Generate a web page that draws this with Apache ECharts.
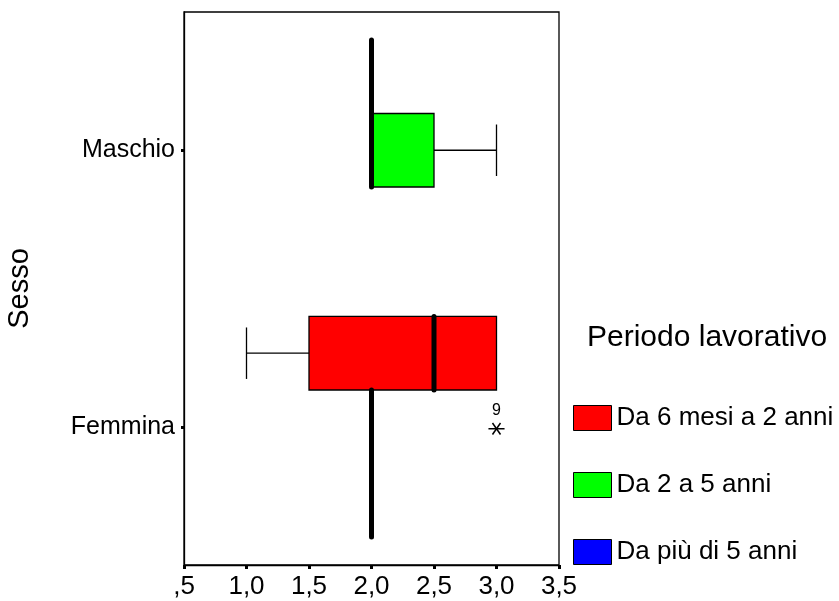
<!DOCTYPE html>
<html>
<head>
<meta charset="utf-8">
<script src="https://cdn.jsdelivr.net/npm/echarts@6/dist/echarts.min.js"></script>
<style>html,body{margin:0;padding:0;background:#fff}#c{width:839px;height:601px}</style>
</head>
<body>
<div id="c"></div>
<script>
// ---- data ----
const categories = ['Maschio', 'Femmina'];
const seriesNames = ['Da 6 mesi a 2 anni', 'Da 2 a 5 anni', 'Da più di 5 anni'];
const seriesColors = ['#ff0000', '#00ff00', '#0000ff'];
// [categoryIndex, min, Q1, median, Q3, max]
const boxRed   = [[0, 2.0, 2.0, 2.0, 2.0, 2.0], [1, 1.0, 1.5, 2.5, 3.0, 3.0]];
const boxGreen = [[0, 2.0, 2.0, 2.0, 2.5, 3.0], [1, 2.0, 2.0, 2.0, 2.0, 2.0]];
const boxBlue  = [[1, 2.0, 2.0, 2.0, 2.0, 2.0]];
// outliers: [categoryIndex, seriesIndex, value, case label]
const outliers = [[1, 1, 3.0, '9']];
const xTickValues = [0.5, 1.0, 1.5, 2.0, 2.5, 3.0, 3.5];
const xTickLabels = [',5', '1,0', '1,5', '2,0', '2,5', '3,0', '3,5'];

const FONT = '"Liberation Sans", Arial, sans-serif';
const BOX_FRAC = 0.266;

function makeBoxRender(sIdx) {
  return function (params, api) {
    const cat = api.value(0);
    const mn = api.value(1), q1 = api.value(2), md = api.value(3), q3 = api.value(4), mx = api.value(5);
    const band = api.size([0, 1])[1];
    const w = band * BOX_FRAC;
    const yc = api.coord([mn, cat])[1] + (sIdx - 1) * w;
    const X = v => api.coord([v, cat])[0];
    const cap = w * 0.7;
    const children = [];
    const line = (x1, y1, x2, y2, lw) => ({
      type: 'line', shape: { x1, y1, x2, y2 },
      style: { stroke: '#000', lineWidth: lw || 1.3 }
    });
    if (mn < q1) {
      children.push(line(X(mn), yc, X(q1), yc));
      children.push(line(X(mn), yc - cap / 2, X(mn), yc + cap / 2));
    }
    if (mx > q3) {
      children.push(line(X(q3), yc, X(mx), yc));
      children.push(line(X(mx), yc - cap / 2, X(mx), yc + cap / 2));
    }
    if (q3 > q1) {
      children.push({
        type: 'rect',
        shape: { x: X(q1), y: yc - w / 2, width: X(q3) - X(q1), height: w },
        style: { fill: seriesColors[sIdx], stroke: '#000', lineWidth: 1.3 }
      });
    }
    children.push({
      type: 'line', shape: { x1: X(md), y1: yc - w / 2, x2: X(md), y2: yc + w / 2 },
      style: { stroke: '#000', lineWidth: 5, lineCap: 'round' }
    });
    return { type: 'group', children };
  };
}

function renderOutlier(params, api) {
  const cat = api.value(0), sIdx = api.value(1), v = api.value(2);
  const band = api.size([0, 1])[1];
  const w = band * BOX_FRAC;
  const p = api.coord([v, cat]);
  const x = p[0], y = p[1] + (sIdx - 1) * w + 2;
  const r = 7;
  const children = [];
  [0, 55, -55].forEach(a => {
    const rad = a * Math.PI / 180;
    const dx = Math.cos(rad) * r * (a === 0 ? 1.15 : 1), dy = Math.sin(rad) * r;
    children.push({ type: 'line', shape: { x1: x - dx, y1: y - dy, x2: x + dx, y2: y + dy },
      style: { stroke: '#000', lineWidth: 1.5 } });
  });
  children.push({ type: 'text', x: x, y: y - 10,
    style: { text: outliers[params.dataIndex][3], fill: '#000', font: '16px ' + FONT,
      align: 'center', verticalAlign: 'bottom' } });
  return { type: 'group', children };
}

const boxData = [boxRed, boxGreen, boxBlue];
const series = boxData.map((d, i) => ({
  name: seriesNames[i],
  type: 'custom',
  renderItem: makeBoxRender(i),
  itemStyle: { color: seriesColors[i], borderColor: '#000', borderWidth: 1 },
  encode: { x: [1, 2, 3, 4, 5], y: 0 },
  data: d,
  silent: true
}));
series.push({
  name: 'outliers',
  type: 'custom',
  renderItem: renderOutlier,
  encode: { x: 2, y: 0 },
  data: outliers,
  silent: true
});

const chart = echarts.init(document.getElementById('c'), null, { renderer: 'canvas' });
chart.setOption({
  animation: false,
  backgroundColor: '#fff',
  grid: { left: 184, top: 12, width: 375, height: 553, containLabel: false, outerBoundsMode: 'none',
    show: true, borderColor: '#000', borderWidth: 1.3, backgroundColor: 'transparent' },
  xAxis: {
    type: 'value', min: 0.5, max: 3.5, interval: 0.5,
    axisLine: { show: true, lineStyle: { color: '#000', width: 1.3 } },
    axisTick: { show: true, length: 4, lineStyle: { color: '#000', width: 3 } },
    splitLine: { show: false },
    axisLabel: {
      color: '#000', fontSize: 26, fontFamily: FONT, margin: 9,
      formatter: v => { const i = xTickValues.findIndex(t => Math.abs(t - v) < 1e-9); return i >= 0 ? xTickLabels[i] : ''; }
    }
  },
  yAxis: {
    type: 'category', data: categories, inverse: true,
    name: 'Sesso', nameLocation: 'middle', nameRotate: 90, nameGap: 150,
    nameTextStyle: { color: '#000', fontSize: 29, fontFamily: FONT },
    axisLine: { show: true, lineStyle: { color: '#000', width: 1.3 } },
    axisTick: { show: true, alignWithLabel: true, length: 3, lineStyle: { color: '#000', width: 3 } },
    axisLabel: { color: '#000', fontSize: 25, fontFamily: FONT, margin: 9 },
    splitLine: { show: false }
  },
  legend: {
    data: seriesNames.map((n, i) => ({ name: n, icon: 'rect', itemStyle: { color: seriesColors[i], borderColor: '#000', borderWidth: 1 } })),
    orient: 'vertical', left: 573, top: 405, itemWidth: 38, itemHeight: 25, itemGap: 41, padding: 0,
    textStyle: { color: '#000', fontSize: 26, fontFamily: FONT },
    selectedMode: false
  },
  graphic: [{
    type: 'text', left: 587, top: 323,
    style: { text: 'Periodo lavorativo', fill: '#000', font: '30px ' + FONT }
  }],
  series
});
</script>
</body>
</html>
